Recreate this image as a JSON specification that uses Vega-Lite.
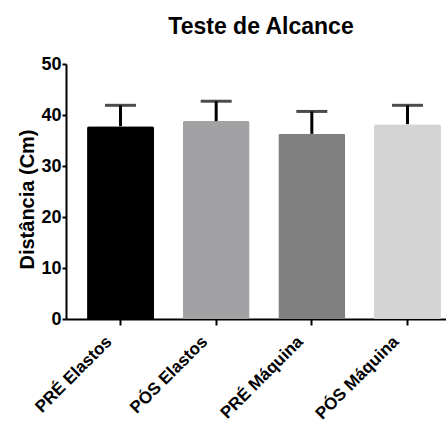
{
  "$schema": "https://vega.github.io/schema/vega-lite/v6.json",
  "width": 380,
  "height": 255,
  "autosize": {"type": "none"},
  "padding": {"left": 66, "top": 64, "right": 0, "bottom": 109},
  "background": "white",
  "config": {
    "view": {"stroke": null},
    "font": "Liberation Sans"
  },
  "title": {
    "text": "Teste de Alcance",
    "font": "Liberation Sans",
    "fontSize": 23,
    "fontWeight": "bold",
    "color": "black",
    "anchor": "middle",
    "dx": 5,
    "offset": 16
  },
  "data": {
    "values": [
      {"grupo": "PRÉ Elastos", "media": 37.8, "limite": 41.9},
      {"grupo": "PÓS Elastos", "media": 38.8, "limite": 42.7},
      {"grupo": "PRÉ Máquina", "media": 36.3, "limite": 40.7},
      {"grupo": "PÓS Máquina", "media": 38.2, "limite": 41.9}
    ]
  },
  "encoding": {
    "x": {
      "field": "grupo",
      "type": "nominal",
      "sort": null,
      "scale": {"range": [0, 396], "paddingInner": 0.3, "paddingOuter": 0.22},
      "axis": {
        "title": null,
        "labelAngle": -45,
        "labelFont": "Liberation Sans",
        "labelFontSize": 17,
        "labelFontWeight": "bold",
        "labelColor": "black",
        "labelPadding": 8,
        "labelOffset": -17,
        "domainColor": "black",
        "domainWidth": 2,
        "tickColor": "black",
        "tickWidth": 2,
        "tickSize": 6
      }
    }
  },
  "layer": [
    {
      "mark": {"type": "bar", "cornerRadiusTopLeft": 2, "cornerRadiusTopRight": 2},
      "encoding": {
        "y": {
          "field": "media",
          "type": "quantitative",
          "scale": {"domain": [0, 50], "nice": false},
          "axis": {
            "title": "Distância (Cm)",
            "titleFont": "Liberation Sans",
            "titleFontSize": 20,
            "titleFontWeight": "bold",
            "titleColor": "black",
            "titlePadding": 3,
            "titleY": 135,
            "values": [0, 10, 20, 30, 40, 50],
            "grid": false,
            "labelFont": "Liberation Sans",
            "labelFontSize": 18,
            "labelFontWeight": "bold",
            "labelColor": "black",
            "labelPadding": 1,
            "domainColor": "black",
            "domainWidth": 2,
            "tickColor": "black",
            "tickWidth": 2,
            "tickSize": 4
          }
        },
        "color": {
          "field": "grupo",
          "type": "nominal",
          "sort": null,
          "scale": {"range": ["#000000", "#a2a2a5", "#808080", "#d4d4d4"]},
          "legend": null
        }
      }
    },
    {
      "mark": {"type": "rule", "color": "black", "strokeWidth": 3},
      "encoding": {
        "y": {"field": "media", "type": "quantitative"},
        "y2": {"field": "limite"}
      }
    },
    {
      "mark": {"type": "tick", "color": "black", "thickness": 3, "size": 31},
      "encoding": {
        "y": {"field": "limite", "type": "quantitative"}
      }
    }
  ]
}
